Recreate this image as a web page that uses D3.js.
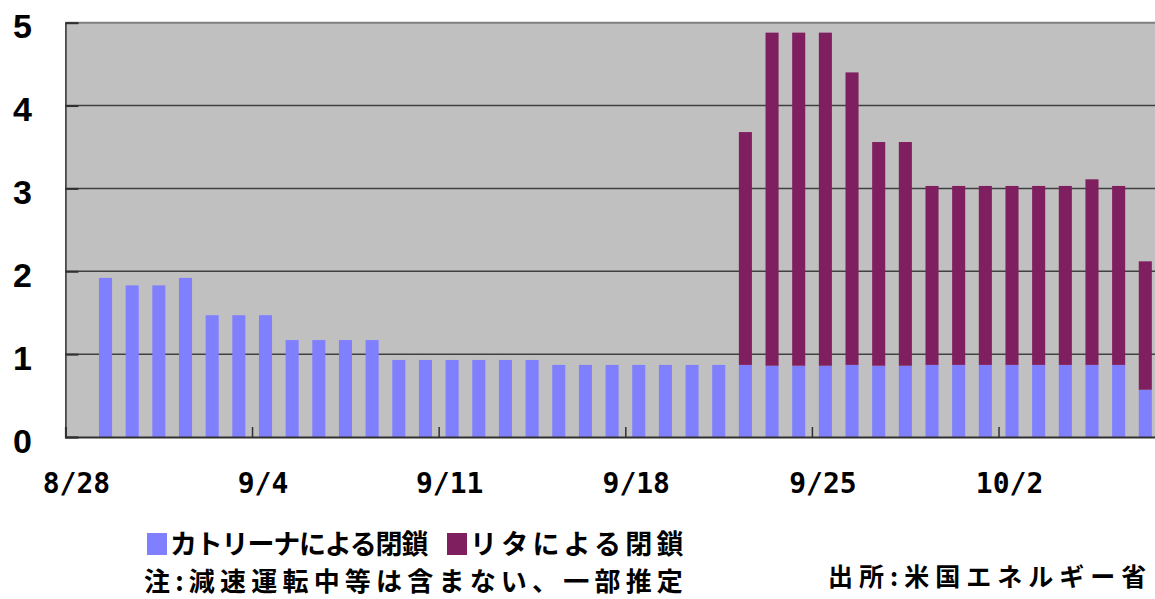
<!DOCTYPE html>
<html>
<head>
<meta charset="utf-8">
<script src="https://cdn.jsdelivr.net/npm/d3@7"></script>
<style>
  body { margin: 0; background: #fff; }
  svg { display: block; }
</style>
</head>
<body>
<svg id="chart" width="1155" height="599"></svg>
<script>
// days shown as bars
var dates = ["2005-08-29","2005-08-30","2005-08-31","2005-09-01","2005-09-02","2005-09-03","2005-09-04",
  "2005-09-05","2005-09-06","2005-09-07","2005-09-08","2005-09-09","2005-09-10","2005-09-11",
  "2005-09-12","2005-09-13","2005-09-14","2005-09-15","2005-09-16","2005-09-17","2005-09-18",
  "2005-09-19","2005-09-20","2005-09-21","2005-09-22","2005-09-23","2005-09-24","2005-09-25",
  "2005-09-26","2005-09-27","2005-09-28","2005-09-29","2005-09-30","2005-10-01","2005-10-02",
  "2005-10-03","2005-10-04","2005-10-05","2005-10-06","2005-10-07"];
// katrina closures
var katrina = [1.92,1.83,1.83,1.92,1.47,1.47,1.47,
  1.17,1.17,1.17,1.17,0.93,0.93,0.93,
  0.93,0.93,0.93,0.87,0.87,0.87,0.87,
  0.87,0.87,0.87,0.87,0.86,0.86,0.86,
  0.87,0.86,0.86,0.87,0.87,0.87,0.87,
  0.87,0.87,0.87,0.87,0.57];
// rita closures
var rita = [0,0,0,0,0,0,0,
  0,0,0,0,0,0,0,
  0,0,0,0,0,0,0,
  0,0,0,2.81,4.02,4.02,4.02,
  3.53,2.70,2.70,2.16,2.16,2.16,2.16,
  2.16,2.16,2.24,2.16,1.55];
var tickDates = ["2005-08-28","2005-09-04","2005-09-11","2005-09-18","2005-09-25","2005-10-02"];
var yTicks = [0,1,2,3,4,5];
var seriesNames = ["カトリーナによる閉鎖", "リタによる閉鎖"];
var seriesColors = ["#8080ff", "#801f5f"];

(function() {
var parse = d3.timeParse("%Y-%m-%d");
var svg = d3.select("#chart");

var pLeft = 65.4, pRight = 1158.5, pTop = 22.7, pBottom = 437;

var x = d3.scaleTime()
  .domain([parse("2005-08-28"), parse("2005-10-08")])
  .range([pLeft, pRight]);
var y = d3.scaleLinear().domain([0, 5]).range([pBottom, pTop]);

var step = x(parse("2005-08-29")) - x(parse("2005-08-28"));

// plot background
svg.append("rect")
  .attr("x", pLeft).attr("y", pTop)
  .attr("width", pRight - pLeft).attr("height", pBottom - pTop)
  .attr("fill", "#c0c0c0");

// grid lines
svg.append("g").selectAll("line").data(yTicks.filter(function(d){ return d > 0 && d < 5; }))
  .enter().append("line")
    .attr("x1", pLeft).attr("x2", pRight)
    .attr("y1", function(d){ return y(d); })
    .attr("y2", function(d){ return y(d); })
    .attr("stroke", "#404040").attr("stroke-width", 1.5);

// top border
svg.append("line")
  .attr("x1", pLeft).attr("x2", pRight).attr("y1", y(5)).attr("y2", y(5))
  .attr("stroke", "#808080").attr("stroke-width", 2);

// bars
var rows = dates.map(function(d, i){ return {date: parse(d), k: katrina[i], r: rita[i]}; });
var bars = svg.append("g");
bars.selectAll("rect.k").data(rows).enter().append("rect")
  .attr("class", "k")
  .attr("x", function(d){ return x(d.date) + step * 0.26; })
  .attr("width", step * 0.49)
  .attr("y", function(d){ return y(d.k); })
  .attr("height", function(d){ return y(0) - y(d.k); })
  .attr("fill", seriesColors[0]);
bars.selectAll("rect.r").data(rows.filter(function(d){ return d.r > 0; })).enter().append("rect")
  .attr("class", "r")
  .attr("x", function(d){ return x(d.date) + step * 0.26; })
  .attr("width", step * 0.49)
  .attr("y", function(d){ return y(d.k + d.r); })
  .attr("height", function(d){ return y(d.k) - y(d.k + d.r); })
  .attr("fill", seriesColors[1]);

// y axis
var yAxis = svg.append("g")
  .attr("transform", "translate(" + pLeft + ",0)")
  .call(d3.axisLeft(y).tickValues(yTicks).tickSize(-13).tickFormat(""));
yAxis.select(".domain").attr("stroke", "#303030").attr("stroke-width", 1.5);
yAxis.selectAll(".tick line").attr("stroke", "#303030").attr("stroke-width", 2);

svg.append("g").selectAll("text").data(yTicks).enter().append("text")
  .attr("x", 32)
  .attr("y", function(d){ return y(d) + 15.5; })
  .attr("text-anchor", "end")
  .attr("font-family", "'Liberation Sans', Arial, sans-serif")
  .attr("font-weight", "bold")
  .attr("font-size", 34)
  .attr("fill", "#000")
  .text(function(d){ return d; });

// x axis
var xAxis = svg.append("g")
  .attr("transform", "translate(0," + pBottom + ")")
  .call(d3.axisBottom(x).tickValues(tickDates.map(parse)).tickSize(-10).tickFormat(""));
xAxis.select(".domain").attr("stroke", "#303030").attr("stroke-width", 2);
xAxis.selectAll(".tick line").attr("stroke", "#303030").attr("stroke-width", 1.5);

var fmt = d3.timeFormat("%-m/%-d");
svg.append("g").selectAll("text").data(tickDates).enter().append("text")
  .attr("x", function(d){ return x(parse(d)) + 11; })
  .attr("y", 493)
  .attr("text-anchor", "middle")
  .attr("font-family", "'DejaVu Sans Mono', monospace")
  .attr("font-weight", "bold")
  .attr("font-size", 28)
  .attr("fill", "#000")
  .text(function(d){ return fmt(parse(d)); });

// legend
var cjk = "'Noto Sans CJK JP', sans-serif";
var legendX = [147, 447];
var legendSpacing = [-1.2, 4.2];
var legend = svg.append("g").selectAll("g").data(seriesNames).enter().append("g")
  .attr("transform", function(d, i){ return "translate(" + legendX[i] + ",0)"; });
legend.append("rect")
  .attr("x", 0).attr("y", 533).attr("width", 20).attr("height", 22)
  .attr("fill", function(d, i){ return seriesColors[i]; });
legend.append("text")
  .attr("x", 23).attr("y", 554)
  .attr("font-family", cjk).attr("font-weight", "bold").attr("font-size", 27)
  .attr("letter-spacing", function(d, i){ return legendSpacing[i]; })
  .attr("fill", "#000")
  .text(function(d){ return d; });

svg.append("text")
  .attr("x", 144).attr("y", 591)
  .attr("font-family", cjk).attr("font-weight", "bold").attr("font-size", 26)
  .attr("letter-spacing", 5.2)
  .attr("fill", "#000")
  .text("注:減速運転中等は含まない、一部推定");

svg.append("text")
  .attr("x", 828).attr("y", 586)
  .attr("font-family", cjk).attr("font-weight", "bold").attr("font-size", 25)
  .attr("letter-spacing", 6)
  .attr("fill", "#000")
  .text("出所:米国エネルギー省");
})();
</script>
</body>
</html>
